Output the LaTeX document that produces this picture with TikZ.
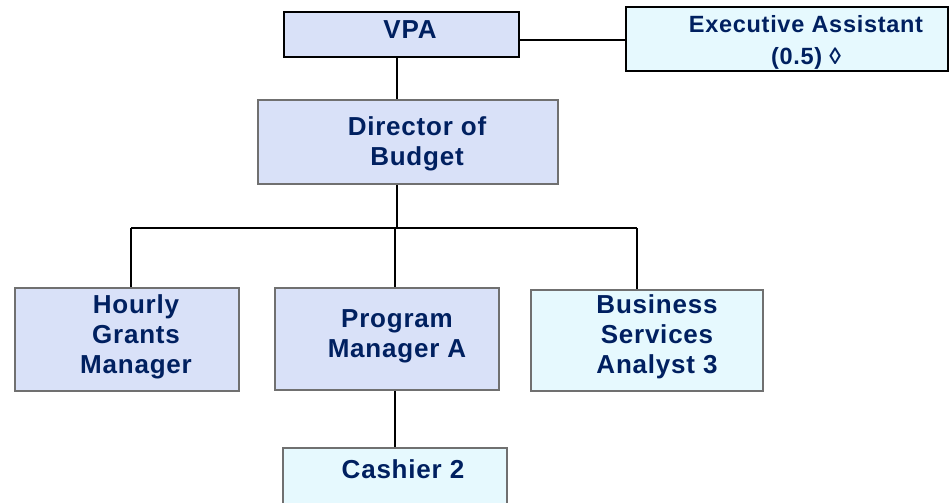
\documentclass[tikz,border=0pt]{standalone}
\usepackage{fontspec}
\setmainfont{Liberation Sans}[BoldFont={Liberation Sans Bold}, LetterSpace=3]
\definecolor{lav}{RGB}{217,225,248}
\definecolor{cyanfill}{RGB}{230,249,254}
\definecolor{navy}{RGB}{0,32,96}
\definecolor{edgegray}{RGB}{112,112,112}
\tikzset{
  box/.style={rectangle, inner sep=0pt},
  thickbox/.style={box, draw=black, line width=2.6pt},
  thinbox/.style={box, draw=edgegray, line width=1.5pt},
  lavbox/.style={fill=lav},
  cyanbox/.style={fill=cyanfill},
  lbl/.style={anchor=base, align=center, inner sep=0pt, text=navy,
    font=\fontsize{26}{30}\selectfont\bfseries},
  smalllbl/.style={lbl, font=\fontsize{23.5}{32}\selectfont\bfseries},
  conn/.style={draw=black, line width=2.6pt}
}
\begin{document}
\begin{tikzpicture}[x=1pt,y=-1pt]
\useasboundingbox (0,0) rectangle (950,503);
\clip (0,0) rectangle (950,503);
% boxes
\node[thickbox, lavbox, minimum width=235pt, minimum height=45pt] (vpa) at (401.5,34.5) {};
\node[thickbox, cyanbox, minimum width=322pt, minimum height=64pt] (exec) at (787,39) {};
\node[thinbox, lavbox, minimum width=300pt, minimum height=84pt] (dir) at (408,142) {};
\node[thinbox, lavbox, minimum width=224pt, minimum height=103pt] (hourly) at (127,339.5) {};
\node[thinbox, lavbox, minimum width=224pt, minimum height=102pt] (prog) at (387,339) {};
\node[thinbox, cyanbox, minimum width=232pt, minimum height=101pt] (bsa) at (647,340.5) {};
\node[thinbox, cyanbox, minimum width=224pt, minimum height=70pt] (cash) at (395,483) {};
% labels (anchor = baseline of the last line)
\node[lbl] (vpat) at (410,38) {VPA};
\node[smalllbl] (exect) at (806,64) {Executive Assistant\\(0.5) ◊};
\node[lbl] (dirt) at (417,165) {Director of\\Budget};
\node[lbl] (hourlyt) at (136,373) {Hourly\\Grants\\Manager};
\node[lbl] (progt) at (397,357) {Program\\Manager A};
\node[lbl] (bsat) at (657,373) {Business\\Services\\Analyst 3};
\node[lbl] (casht) at (403,478) {Cashier 2};
% connectors
\coordinate (bus) at (397,228);
\coordinate (bh) at (131,228);
\coordinate (bp) at (395,228);
\coordinate (bb) at (637,228);
\draw[conn] ([yshift=-5.5pt]vpa.east) -- ([yshift=-5.5pt]vpa.east -| exec.west);
\draw[conn] (vpa.south -| bus) -- (dir.north -| bus);
\draw[conn] (dir.south -| bus) -- (bus);
\draw[conn] (bh) -- (bb);
\draw[conn] (bh) -- (bh |- hourly.north);
\draw[conn] (bp) -- (bp |- prog.north);
\draw[conn] (bb) -- (bb |- bsa.north);
\draw[conn] (prog.south -| bp) -- (cash.north -| bp);
\end{tikzpicture}
\end{document}
